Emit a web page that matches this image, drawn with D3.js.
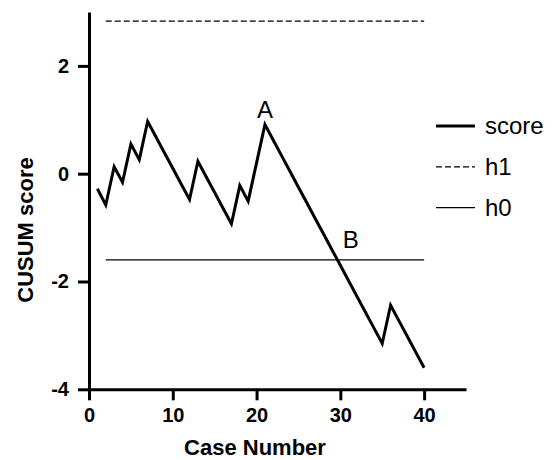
<!DOCTYPE html>
<html>
<head>
<meta charset="utf-8">
<script src="https://cdn.jsdelivr.net/npm/d3@7"></script>
<style>
  body { margin: 0; background: #fff; }
  svg { font-family: "Liberation Sans", Arial, sans-serif; }
</style>
</head>
<body>
<div id="chart"></div>
<script>
// CUSUM score per case
const cases = d3.range(1, 41);
const scores = [
  -0.28, -0.58, 0.13, -0.16, 0.55, 0.26, 0.97, 0.68, 0.39, 0.10,
  -0.19, -0.48, 0.23, -0.06, -0.35, -0.64, -0.93, -0.22, -0.51, 0.20,
  0.91, 0.62, 0.33, 0.04, -0.25, -0.54, -0.83, -1.12, -1.41, -1.70,
  -1.99, -2.28, -2.57, -2.86, -3.15, -2.44, -2.73, -3.02, -3.31, -3.60
];
const h1 = 2.83;
const h0 = -1.6;
const limitRange = [2, 40];
const xTicks = [0, 10, 20, 30, 40];
const yTicks = [-4, -2, 0, 2];
const annotations = [
  { label: "A", x: 21, y: 0.91 },
  { label: "B", x: 30.3, y: -1.6 }
];
const legendItems = [
  { label: "score", width: 3, dash: null },
  { label: "h1", width: 1.3, dash: "6,3" },
  { label: "h0", width: 1.3, dash: null }
];

const width = 554, height = 460;

const x = d3.scaleLinear().domain([0, 45]).range([89, 466]);
const y = d3.scaleLinear().domain([-4, 3]).range([389.3, 12]);

const svg = d3.select("#chart").append("svg")
  .attr("width", width)
  .attr("height", height);

// limit lines
svg.append("line")
  .attr("x1", x(limitRange[0])).attr("x2", x(limitRange[1]))
  .attr("y1", y(h1)).attr("y2", y(h1))
  .attr("stroke", "#000").attr("stroke-width", 1.3)
  .attr("stroke-dasharray", "6,3");

svg.append("line")
  .attr("x1", x(limitRange[0])).attr("x2", x(limitRange[1]))
  .attr("y1", y(h0)).attr("y2", y(h0))
  .attr("stroke", "#000").attr("stroke-width", 1.3);

// score line
const line = d3.line()
  .x((d, i) => x(cases[i]))
  .y(d => y(d));

svg.append("path")
  .datum(scores)
  .attr("d", line)
  .attr("fill", "none")
  .attr("stroke", "#000")
  .attr("stroke-width", 3)
  .attr("stroke-linejoin", "miter");

// axes
const fmt = d => String(d);

const xAxis = svg.append("g")
  .attr("transform", `translate(0,${y(-4)})`)
  .call(d3.axisBottom(x).tickValues(xTicks).tickFormat(fmt)
    .tickSize(11).tickSizeOuter(0).tickPadding(8));

const yAxis = svg.append("g")
  .attr("transform", `translate(${x(0)},0)`)
  .call(d3.axisLeft(y).tickValues(yTicks).tickFormat(fmt)
    .tickSize(11).tickSizeOuter(0).tickPadding(9));

[xAxis, yAxis].forEach(g => {
  g.selectAll(".domain, .tick line")
    .attr("stroke", "#000")
    .attr("stroke-width", 3);
  g.selectAll(".tick text")
    .attr("fill", "#000")
    .style("font-size", "20px")
    .style("font-weight", "bold")
    .style("font-family", "Liberation Sans, Arial, sans-serif");
});

// axis titles
svg.append("text")
  .attr("x", 255).attr("y", 455)
  .attr("text-anchor", "middle")
  .style("font-size", "22px").style("font-weight", "bold")
  .text("Case Number");

svg.append("text")
  .attr("transform", "translate(33,230) rotate(-90)")
  .attr("text-anchor", "middle")
  .style("font-size", "22px").style("font-weight", "bold")
  .text("CUSUM score");

// annotations
svg.append("text")
  .attr("x", x(annotations[0].x)).attr("y", y(annotations[0].y) - 7)
  .attr("text-anchor", "middle")
  .style("font-size", "24px")
  .text(annotations[0].label);

svg.append("text")
  .attr("x", x(annotations[1].x)).attr("y", y(annotations[1].y) - 12)
  .attr("text-anchor", "start")
  .style("font-size", "24px")
  .text(annotations[1].label);

// legend
const legend = svg.append("g").attr("transform", "translate(436,126)");
legendItems.forEach((d, i) => {
  const row = legend.append("g").attr("transform", `translate(0,${i * 40.8})`);
  row.append("line")
    .attr("x1", 0).attr("x2", 39)
    .attr("y1", 0).attr("y2", 0)
    .attr("stroke", "#000")
    .attr("stroke-width", d.width)
    .attr("stroke-dasharray", d.dash);
  row.append("text")
    .attr("x", 49).attr("y", 8)
    .style("font-size", "24px")
    .text(d.label);
});
</script>
</body>
</html>
